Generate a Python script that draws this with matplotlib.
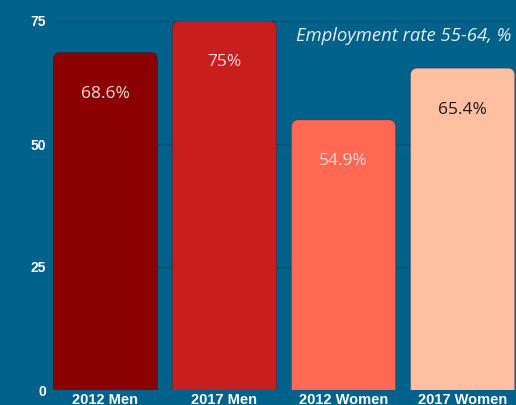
import matplotlib.pyplot as plt
from matplotlib.patches import FancyBboxPatch

categories = ['2012 Men', '2017 Men', '2012 Women', '2017 Women']
values = [68.6, 75, 54.9, 65.4]
labels = ['68.6%', '75%', '54.9%', '65.4%']
colors = ['#8b0000', '#c81e1e', '#ff6853', '#ffbfa0']
text_colors = ['#f2dcdc', '#f2dcdc', '#f2dcdc', '#1a1a1a']

bg = '#00628a'

fig = plt.figure(figsize=(5.16, 4.05), dpi=100, facecolor=bg)
ax = fig.add_axes([53 / 516, 15 / 405, 462 / 516, 369 / 405])
ax.set_facecolor(bg)

x = range(len(categories))
bars = ax.bar(x, values, width=0.875, color='none', zorder=2)

ax.set_xlim(-0.44, 3.44)
ax.set_ylim(0, 75)

# rounded top corners, in pixel terms
px_x = 462 / (3.44 + 0.44)
px_y = 369 / 75
r_px = 7
for b, c in zip(bars, colors):
    p = FancyBboxPatch((b.get_x(), -5), b.get_width(), b.get_height() + 5,
                       boxstyle='round,pad=0,rounding_size=%f' % (r_px / px_x),
                       mutation_aspect=px_x / px_y,
                       facecolor=c, edgecolor='#00000030', linewidth=0.8,
                       zorder=2, clip_on=True)
    ax.add_patch(p)
    b.remove()

for i, v in enumerate(values):
    ax.text(i, v - 8.4, labels[i], ha='center', va='center', fontsize=12.5,
            family='Open Sans', color=text_colors[i], zorder=3)

ax.set_yticks([0, 25, 50, 75])
ax.set_yticklabels(['0', '25', '50', '75'], fontweight='bold', fontsize=10,
                   color='white', family='Liberation Sans')
ax.set_xticks(list(x))
ax.set_xticklabels(categories, fontweight='bold', fontsize=10.5, color='white',
                   family='Liberation Sans')
ax.tick_params(axis='both', length=0)
ax.tick_params(axis='y', pad=5)
ax.tick_params(axis='x', pad=2.5)
ax.grid(axis='y', color='#00506e', linewidth=1, zorder=0)
for s in ax.spines.values():
    s.set_visible(False)

ax.text(0.993, 0.958, 'Employment rate 55-64, %', transform=ax.transAxes,
        ha='right', va='center', fontsize=13.3, style='italic',
        family='Open Sans', color='#e6eef2', zorder=4)

fig.savefig('out.png', dpi=100, facecolor=bg)
